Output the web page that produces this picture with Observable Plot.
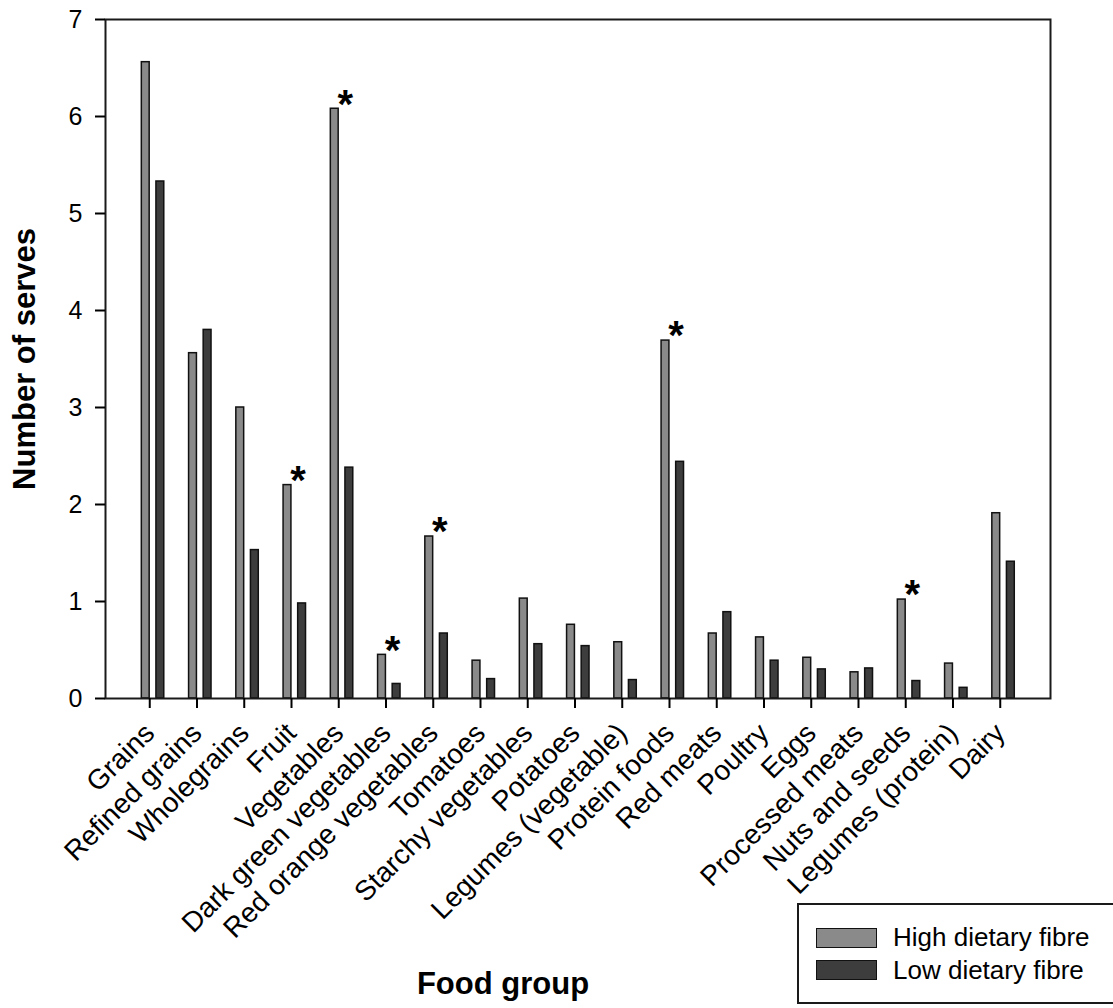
<!DOCTYPE html>
<html>
<head>
<meta charset="utf-8">
<script src="https://cdn.jsdelivr.net/npm/d3@7"></script>
<script src="https://cdn.jsdelivr.net/npm/@observablehq/plot@0.6"></script>
<style>
  html, body { margin: 0; padding: 0; background: #fff; overflow: hidden; }
  #wrap { position: relative; width: 1113px; height: 1008px; overflow: hidden; font-family: "Liberation Sans", Arial, sans-serif; }
  .sw { position: absolute; box-sizing: border-box; border: 1.5px solid #111; }
  .lt { position: absolute; font-size: 26px; line-height: 26px; color: #000; white-space: nowrap; }
</style>
</head>
<body>
<div id="wrap"></div>
<script>
const categories = ["Grains","Refined grains","Wholegrains","Fruit","Vegetables","Dark green vegetables","Red orange vegetables","Tomatoes","Starchy vegetables","Potatoes","Legumes (vegetable)","Protein foods","Red meats","Poultry","Eggs","Processed meats","Nuts and seeds","Legumes (protein)","Dairy"];
const highFibre = [6.56,3.56,3.00,2.20,6.08,0.45,1.67,0.39,1.03,0.76,0.58,3.69,0.67,0.63,0.42,0.27,1.02,0.36,1.91];
const lowFibre  = [5.33,3.80,1.53,0.98,2.38,0.15,0.67,0.20,0.56,0.54,0.19,2.44,0.89,0.39,0.30,0.31,0.18,0.11,1.41];
const significant = ["Fruit","Vegetables","Dark green vegetables","Red orange vegetables","Protein foods","Nuts and seeds"];
const yTicks = [0,1,2,3,4,5,6,7];
const seriesNames = ["High dietary fibre","Low dietary fibre"];
const seriesColors = ["#8a8a8a","#3d3d3d"];

const rows = categories.map((c, i) => ({category: c, high: highFibre[i], low: lowFibre[i]}));
const sigRows = rows.filter(d => significant.includes(d.category));

const font = "'Liberation Sans', Arial, sans-serif";

const chart = Plot.plot({
  width: 1113,
  height: 1008,
  marginTop: 19,
  marginLeft: 105,
  marginRight: 63,
  marginBottom: 310,
  style: {fontFamily: font, background: "#fff", color: "#000"},
  x: {domain: categories, paddingInner: 0, paddingOuter: 0.5, round: false},
  y: {domain: [0, 7]},
  marks: [
    Plot.barY(rows, {x: "category", y: "high", fill: seriesColors[0], stroke: "#111", strokeWidth: 1.5, insetLeft: 12.7, insetRight: 26.7}),
    Plot.barY(rows, {x: "category", y: "low", fill: seriesColors[1], stroke: "#111", strokeWidth: 1.5, insetLeft: 27.3, insetRight: 12.1}),
    Plot.text(sigRows, {x: "category", y: "high", text: () => "*", dx: 3.5, dy: -4, fontSize: 40, fontWeight: "bold"}),
    Plot.frame({stroke: "#1a1a1a", strokeWidth: 2}),
    Plot.axisY({ticks: yTicks, tickSize: 10, tickPadding: 13, fontSize: 25, label: null, strokeWidth: 2, tickFormat: d => String(d)}),
    Plot.axisX({tickSize: 10, tickPadding: 20, dx: -3, tickRotate: -45, fontSize: 28, label: null, strokeWidth: 2}),
    Plot.text(["Number of serves"], {frameAnchor: "left", textAnchor: "middle", lineAnchor: "middle", dx: -80, rotate: -90, fontSize: 31, fontWeight: "bold"}),
    Plot.text(["Food group"], {frameAnchor: "bottom", textAnchor: "middle", lineAnchor: "middle", dx: -75, dy: 286, fontSize: 31, fontWeight: "bold"})
  ]
});

const wrap = document.getElementById("wrap");
wrap.appendChild(chart);

// Legend (HTML, overlaid at bottom right)
const box = document.createElement("div");
box.style.cssText = "position:absolute;left:797px;top:903px;width:330px;height:101px;box-sizing:border-box;border:2px solid #1a1a1a;background:#fff;";
wrap.appendChild(box);
const legendTops = [928, 960];
const textTops = [924, 957];
seriesNames.forEach((name, i) => {
  const sw = document.createElement("div");
  sw.className = "sw";
  sw.style.left = "816px";
  sw.style.top = legendTops[i] + "px";
  sw.style.width = "61px";
  sw.style.height = "20px";
  sw.style.background = seriesColors[i];
  wrap.appendChild(sw);
  const t = document.createElement("div");
  t.className = "lt";
  t.style.left = "893px";
  t.style.top = textTops[i] + "px";
  t.textContent = name;
  wrap.appendChild(t);
});
</script>
</body>
</html>
